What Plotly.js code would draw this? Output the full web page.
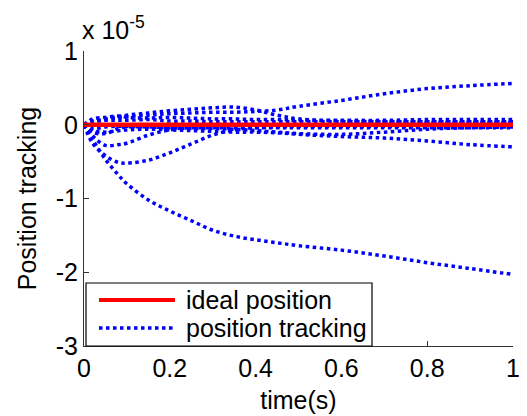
<!DOCTYPE html>
<html><head><meta charset="utf-8">
<script src="https://cdn.plot.ly/plotly-3.0.1.min.js"></script>
<style>html,body{margin:0;padding:0;background:#fff}#chart{width:527px;height:416px}</style>
</head><body><div id="chart"></div>
<script>
// values in units of 1e-5
const time = [0,0.02,0.05,0.08,0.1,0.15,0.2,0.25,0.3,0.35,0.4,0.45,0.5,0.6,0.7,0.8,0.9,1.0];
const ideal = [0,0,0,0,0,0,0,0,0,0,0,0,0,0,0,0,0,0];
const trackRise  = [0,0.03,0.07,0.1,0.11,0.13,0.15,0.16,0.17,0.17,0.18,0.2,0.25,0.33,0.42,0.49,0.53,0.56];
const trackHump  = [0,0.04,0.08,0.11,0.13,0.16,0.19,0.21,0.23,0.24,0.2,0.13,0.08,0.05,0.04,0.03,0.03,0.03];
const trackDrop  = [0,-0.2,-0.47,-0.68,-0.8,-1.02,-1.17,-1.3,-1.43,-1.51,-1.56,-1.6,-1.64,-1.7,-1.78,-1.87,-1.95,-2.03];
const trackDip   = [0,-0.25,-0.42,-0.51,-0.52,-0.48,-0.38,-0.26,-0.14,-0.07,-0.04,-0.03,-0.02,-0.02,-0.02,-0.02,-0.02,-0.02];
const trackDip2  = [0,-0.15,-0.28,-0.27,-0.25,-0.14,-0.07,-0.03,-0.01,0,0,-0.01,-0.01,-0.01,-0.01,-0.01,-0.01,-0.01];
const trackDrift = [0,-0.08,-0.1,-0.08,-0.07,-0.06,-0.07,-0.08,-0.09,-0.1,-0.1,-0.11,-0.13,-0.16,-0.18,-0.22,-0.27,-0.3];
const trackMid   = [0,-0.05,-0.03,-0.02,-0.02,-0.03,-0.04,-0.05,-0.05,-0.06,-0.08,-0.1,-0.12,-0.13,-0.1,-0.06,-0.04,-0.03];
const trackUp1   = [0,0.08,0.1,0.12,0.1,0.09,0.1,0.09,0.08,0.08,0.07,0.07,0.06,0.06,0.06,0.07,0.07,0.07];
const trackUp2   = [0,0.05,0.06,0.06,0.06,0.07,0.05,0.05,0.04,0.04,0.04,0.04,0.04,0.04,0.04,0.04,0.04,0.04];
const trackLow   = [0,-0.1,-0.12,-0.05,-0.03,-0.03,-0.04,-0.04,-0.04,-0.04,-0.04,-0.04,-0.04,-0.04,-0.04,-0.04,-0.04,-0.04];
const xTicks = [0,0.2,0.4,0.6,0.8,1];
const xTickLabels = ['0','0.2','0.4','0.6','0.8','1'];
const yTicks = [-3,-2,-1,0,1];
const yTickLabels = ['-3','-2','-1','0','1'];
const legendLabels = ['ideal position','position tracking'];

const blueSeries = [trackRise,trackHump,trackDrop,trackDip,trackDip2,trackDrift,trackMid,trackUp1,trackUp2,trackLow];
const FONT = 'Liberation Sans, Arial, sans-serif';
const FS = 25;
const RED = '#ff0000', BLUE = '#0000ff';
const traces = [];
blueSeries.forEach((s)=>{
  traces.push({x:time,y:s,type:'scatter',mode:'lines',name:legendLabels[1],
    showlegend:false,line:{color:BLUE,width:3.5,dash:'dot',shape:'spline'}});
});
traces.push({x:time,y:ideal,type:'scatter',mode:'lines',name:legendLabels[0],
  showlegend:false,line:{color:RED,width:4.5}});

// legend box drawn in paper coordinates (plot area: 429 x 295 px)
const W = 429, H = 295;
const px = v => v / W, py = v => v / H;
const legX0 = px(2), legX1 = px(288), legY0 = py(0), legY1 = py(63);
const row1 = py(46), row2 = py(18);
const shapes = [
  {type:'rect',xref:'paper',yref:'paper',x0:legX0,x1:legX1,y0:legY0,y1:legY1,
   line:{color:'#000',width:1.2},fillcolor:'#fff',layer:'above'},
  {type:'line',xref:'paper',yref:'paper',x0:px(15),x1:px(91),y0:row1,y1:row1,
   line:{color:RED,width:4},layer:'above'},
  {type:'line',xref:'paper',yref:'paper',x0:px(15),x1:px(91),y0:row2,y1:row2,
   line:{color:BLUE,width:3.5,dash:'dot'},layer:'above'}
];

const layout = {
  width:527,height:416,
  margin:{l:84,r:14,t:51,b:70},
  paper_bgcolor:'#fff',plot_bgcolor:'#fff',
  font:{family:FONT,size:FS,color:'#000'},
  showlegend:false,
  xaxis:{range:[0,1],tickvals:xTicks,ticktext:xTickLabels,ticks:'inside',ticklen:5,tickcolor:'#333',
    showline:true,linecolor:'#333',linewidth:1,showgrid:false,zeroline:false,mirror:false,
    title:{text:'time(s)',font:{family:FONT,size:FS},standoff:10},tickfont:{family:FONT,size:FS}},
  yaxis:{range:[-3,1],tickvals:yTicks,ticktext:yTickLabels,ticks:'inside',ticklen:5,tickcolor:'#333',
    showline:true,linecolor:'#333',linewidth:1,showgrid:false,zeroline:false,mirror:false,
    title:{text:'Position tracking',font:{family:FONT,size:FS},standoff:12},tickfont:{family:FONT,size:FS}},
  shapes:shapes,
  annotations:[
    {xref:'paper',yref:'paper',x:0,y:1,xanchor:'left',yanchor:'bottom',yshift:5,xshift:-4,
     text:'x 10<sup>-5</sup>',showarrow:false,font:{family:FONT,size:FS,color:'#000'}},
    {xref:'paper',yref:'paper',x:0.365,y:1,xanchor:'center',yanchor:'bottom',yshift:55,
     text:'(c) y',showarrow:false,font:{family:FONT,size:FS,color:'#000'}},
    {xref:'paper',yref:'paper',x:px(100),y:row1,xanchor:'left',yanchor:'middle',
     text:legendLabels[0],showarrow:false,font:{family:FONT,size:FS,color:'#000'}},
    {xref:'paper',yref:'paper',x:px(100),y:row2,xanchor:'left',yanchor:'middle',
     text:legendLabels[1],showarrow:false,font:{family:FONT,size:FS,color:'#000'}}
  ]
};
Plotly.newPlot('chart',traces,layout,{staticPlot:true});
</script></body></html>
